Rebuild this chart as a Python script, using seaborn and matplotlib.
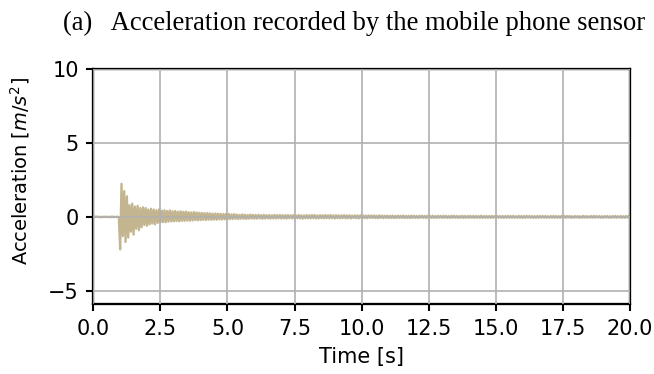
import numpy as np
import matplotlib
matplotlib.use("Agg")
import matplotlib.pyplot as plt
import seaborn as sns

# --- data: one reading every 0.05 s, 0.0 .. 20.0 s ---
SAMPLE_STEP = 0.05

# 0.0 .. 5.0 s : quiet start, knock at ~1 s, decaying ring
onset_acc = [
    0.02, -0.02, 0.03, -0.01, 0.02, -0.03, 0.01, -0.02, 0.02, -0.01,
    0.02, -0.02, 0.01, -0.02, 0.03, -0.02, 0.01, -0.01, 0.02, -0.02,
    -2.2, 2.25, -1.3, 1.75, -1.7, 1.4, -1.4, 0.8, -1.0, 0.9,
    -1.2, 0.7, -0.8, 0.75, -0.9, 0.6, -0.7, 0.65, -0.55, 0.6,
    -0.6, 0.5, -0.5, 0.55, -0.45, 0.5, -0.5, 0.45, -0.4, 0.5,
    -0.38, 0.42, -0.35, 0.45, -0.36, 0.4, -0.32, 0.44, -0.3, 0.38,
    -0.3, 0.4, -0.28, 0.35, -0.3, 0.38, -0.26, 0.34, -0.27, 0.36,
    -0.25, 0.32, -0.26, 0.3, -0.24, 0.33, -0.22, 0.3, -0.23, 0.28,
    -0.22, 0.27, -0.2, 0.25, -0.21, 0.26, -0.19, 0.24, -0.2, 0.22,
    -0.18, 0.23, -0.19, 0.22, -0.17, 0.21, -0.18, 0.2, -0.16, 0.21,
    -0.16,
]
# 5.05 .. 20.0 s : residual noise
tail_acc = [
    0.2, -0.15, 0.17, -0.14, 0.19, -0.13, 0.16, -0.15, 0.14, -0.12, 0.17, -0.13, 0.15, -0.14, 0.13, -0.12, 0.16, -0.11, 0.14, -0.12,
    0.13, -0.12, 0.15, -0.1, 0.12, -0.13, 0.14, -0.11, 0.12, -0.1, 0.13, -0.12, 0.11, -0.1, 0.14, -0.11, 0.12, -0.1, 0.13, -0.11,
    0.12, -0.1, 0.11, -0.12, 0.13, -0.09, 0.11, -0.1, 0.12, -0.11, 0.1, -0.09, 0.13, -0.1, 0.11, -0.12, 0.1, -0.09, 0.12, -0.1,
    0.11, -0.1, 0.13, -0.09, 0.12, -0.11, 0.1, -0.1, 0.12, -0.09, 0.11, -0.1, 0.12, -0.08, 0.11, -0.1, 0.13, -0.09, 0.1, -0.11,
    0.12, -0.09, 0.1, -0.1, 0.11, -0.08, 0.12, -0.1, 0.1, -0.09, 0.11, -0.1, 0.09, -0.08, 0.11, -0.09, 0.1, -0.1, 0.11, -0.08,
    0.1, -0.08, 0.09, -0.09, 0.1, -0.07, 0.09, -0.08, 0.1, -0.08, 0.08, -0.09, 0.1, -0.07, 0.09, -0.08, 0.08, -0.07, 0.09, -0.08,
    0.08, -0.07, 0.09, -0.08, 0.07, -0.08, 0.09, -0.07, 0.08, -0.07, 0.09, -0.08, 0.07, -0.07, 0.08, -0.08, 0.09, -0.07, 0.08, -0.07,
    0.07, -0.08, 0.08, -0.06, 0.08, -0.07, 0.07, -0.08, 0.08, -0.06, 0.07, -0.07, 0.08, -0.07, 0.06, -0.07, 0.08, -0.06, 0.07, -0.07,
    0.08, -0.06, 0.07, -0.07, 0.06, -0.07, 0.08, -0.06, 0.07, -0.06, 0.07, -0.07, 0.06, -0.06, 0.08, -0.07, 0.06, -0.06, 0.07, -0.06,
    0.07, -0.06, 0.06, -0.07, 0.07, -0.06, 0.06, -0.06, 0.08, -0.07, 0.06, -0.06, 0.07, -0.06, 0.06, -0.07, 0.07, -0.06, 0.06, -0.06,
    0.07, -0.06, 0.06, -0.06, 0.07, -0.07, 0.06, -0.05, 0.07, -0.06, 0.06, -0.06, 0.07, -0.06, 0.05, -0.06, 0.07, -0.06, 0.06, -0.07,
    0.06, -0.06, 0.07, -0.05, 0.06, -0.06, 0.06, -0.07, 0.05, -0.06, 0.07, -0.06, 0.06, -0.05, 0.06, -0.06, 0.07, -0.06, 0.05, -0.06,
    0.06, -0.05, 0.07, -0.06, 0.06, -0.06, 0.05, -0.06, 0.07, -0.05, 0.06, -0.06, 0.06, -0.05, 0.07, -0.06, 0.05, -0.06, 0.06, -0.05,
    0.06, -0.06, 0.05, -0.06, 0.07, -0.05, 0.06, -0.06, 0.05, -0.05, 0.06, -0.06, 0.07, -0.05, 0.06, -0.05, 0.06, -0.06, 0.05, -0.06,
    0.06, -0.05, 0.06, -0.06, 0.05, -0.06, 0.06, -0.05, 0.07, -0.06, 0.05, -0.05, 0.06, -0.06, 0.05, -0.06, 0.06, -0.05, 0.06, -0.05,
]

acceleration = np.array(onset_acc + tail_acc)
time_s = np.round(np.arange(len(acceleration)) * SAMPLE_STEP, 3)

x_ticks = [0.0, 2.5, 5.0, 7.5, 10.0, 12.5, 15.0, 17.5, 20.0]
y_ticks = [-5, 0, 5, 10]

title_text = "(a)   Acceleration recorded by the mobile phone sensor"
line_color = "#c2b590"

# --- figure ---
plt.rcParams["font.family"] = ["DejaVu Sans"]
plt.rcParams["mathtext.fontset"] = "dejavusans"

fig, ax = plt.subplots(figsize=(4.36, 374 / 150), dpi=150)
fig.subplots_adjust(left=0.1427, right=0.9633, bottom=0.1864, top=0.8147)

sns.lineplot(x=time_s, y=acceleration, color=line_color, linewidth=1.1, ax=ax)

ax.set_xlim(0, 20)
ax.set_ylim(-5.92, 10)
ax.set_xticks(x_ticks)
ax.set_yticks(y_ticks)
ax.grid(True, color="#b0b0b0", linewidth=0.8)
ax.set_axisbelow(False)

for spine in ax.spines.values():
    spine.set_color("black")
    spine.set_linewidth(1.1)
ax.tick_params(labelsize=10, color="black", width=1.0, length=3.5,
               labelcolor="black")

ax.set_xlabel("Time [s]", fontsize=10, color="black")
ax.set_ylabel("Acceleration [$m/s^2$]", fontsize=9.3, color="black")
ax.yaxis.set_label_coords(-0.114, 0.565)

fig.text(0.0959, 1 - 30 / 374, title_text, ha="left", va="baseline",
         fontsize=12.8, family="Liberation Serif", color="black")

fig.savefig("out.png", dpi=150)
